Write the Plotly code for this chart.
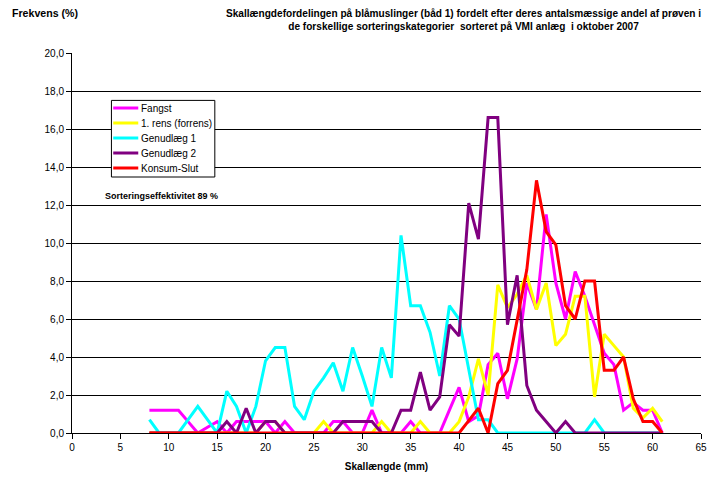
import plotly.graph_objects as go

# Shell length classes (mm)
lengths = list(range(8, 62))

# Frequency (%) per length class for each sorting category
fangst = [1.2, 1.2, 1.2, 1.2, 0.6, 0, 0.3, 0.6, 0, 0.6,
          0.6, 0.6, 0.6, 0, 0.6, 0, 0, 0, 0, 0.6,
          0.6, 0, 0, 1.2, 0, 0, 0, 0.6, 0, 0,
          0, 1.2, 2.4, 0.6, 0.9, 3.6, 4.2, 1.8, 3.9, 7.9,
          6.5, 11.5, 7.9, 6.0, 8.5, 7.2, 5.7, 4.2, 3.6, 1.2,
          1.6, 1.2, 1.2, 0]
rens = [0, 0, 0, 0, 0, 0, 0, 0, 0, 0,
        0, 0, 0.6, 0.6, 0, 0, 0, 0, 0.6, 0,
        0, 0, 0, 0, 0.6, 0, 0, 0, 0.6, 0,
        0, 0, 0.6, 1.9, 3.9, 2.0, 7.8, 6.6, 7.3, 8.3,
        6.5, 7.9, 4.6, 5.2, 7.2, 7.2, 1.9, 5.2, 4.6, 4.0,
        1.3, 0.8, 1.3, 0.6]
genudlaeg1 = [0.7, 0, 0, 0, 0.7, 1.4, 0.7, 0, 2.2, 1.4,
              0, 1.4, 3.8, 4.5, 4.5, 1.4, 0.7, 2.2, 2.9, 3.7,
              2.2, 4.5, 3.0, 1.4, 4.5, 2.9, 10.4, 6.7, 6.7, 5.3,
              3.0, 6.7, 6.0, 3.3, 0.7, 0.7, 0, 0, 0, 0,
              0, 0, 0, 0, 0, 0, 0.7, 0, 0, 0,
              0, 0, 0, 0]
genudlaeg2 = [0, 0, 0, 0, 0, 0, 0, 0, 0.6, 0,
              1.3, 0, 0.6, 0.6, 0, 0, 0, 0, 0, 0,
              0.6, 0.6, 0.6, 0.6, 0, 0, 1.2, 1.2, 3.2, 1.2,
              1.9, 5.7, 5.1, 12.1, 10.2, 16.6, 16.6, 5.7, 8.3, 2.5,
              1.2, 0.6, 0, 0.6, 0, 0, 0, 0, 0, 0,
              0, 0, 0, 0]
konsum = [0, 0, 0, 0, 0, 0, 0, 0, 0, 0,
          0, 0, 0, 0, 0, 0, 0, 0, 0, 0,
          0, 0, 0, 0, 0, 0, 0, 0, 0, 0,
          0, 0, 0, 0.65, 1.3, 0, 2.6, 3.3, 6.0, 8.6,
          13.3, 10.6, 9.9, 6.7, 6.0, 8.0, 8.0, 3.3, 3.3, 4.0,
          1.8, 0.6, 0.6, 0]

series_names = ["Fangst", "1. rens (forrens)", "Genudlæg 1", "Genudlæg 2", "Konsum-Slut"]
series_values = [fangst, rens, genudlaeg1, genudlaeg2, konsum]
series_colors = ["#FF00FF", "#FFFF00", "#00FFFF", "#800080", "#FF0000"]

x_ticks = list(range(0, 70, 5))
y_ticks = list(range(0, 22, 2))

FONT = "Arial, 'Liberation Sans', sans-serif"

# Plot area in page pixels
W, H = 713, 479
L, R, T, B = 72.3, 700.8, 53.3, 433.3


def px_x(px):
    return (px - L) / (R - L)


def px_y(py):
    return (B - py) / (B - T)


fig = go.Figure()
for name, vals, col in zip(series_names, series_values, series_colors):
    fig.add_trace(go.Scatter(x=lengths, y=vals, name=name, mode="lines",
                             line=dict(color=col, width=3), showlegend=False))

shapes = []
annotations = []

# Legend box
shapes.append(dict(type="rect", xref="paper", yref="paper",
                   x0=px_x(111.7), x1=px_x(215), y0=px_y(177.3), y1=px_y(100.7),
                   line=dict(color="#000000", width=1), fillcolor="#FFFFFF", layer="above"))
for i, (name, col) in enumerate(zip(series_names, series_colors)):
    yy = 108.3 + 15 * i
    shapes.append(dict(type="line", xref="paper", yref="paper",
                       x0=px_x(113.5), x1=px_x(138.5), y0=px_y(yy), y1=px_y(yy),
                       line=dict(color=col, width=3), layer="above"))
    annotations.append(dict(text=name, xref="paper", yref="paper",
                            x=px_x(139), y=px_y(yy), xanchor="left", yanchor="middle",
                            showarrow=False, font=dict(family=FONT, size=10, color="#000000")))

annotations += [
    dict(text="<b>Sorteringseffektivitet 89 %</b>", xref="paper", yref="paper",
         x=px_x(103), y=px_y(196.5), xanchor="left", yanchor="middle", showarrow=False,
         font=dict(family=FONT, size=9, color="#000000")),
    dict(text="<b>Skallængdefordelingen på blåmuslinger (båd 1) fordelt efter deres antalsmæssige andel af prøven i</b>"
              "<br><b>de forskellige sorteringskategorier  sorteret på VMI anlæg  i oktober 2007</b>",
         xref="paper", yref="paper", x=px_x(463), y=px_y(20), xanchor="center", yanchor="middle",
         showarrow=False, align="center",
         font=dict(family=FONT, size=10.1, color="#000000")),
    dict(text="<b>Frekvens (%)</b>", xref="paper", yref="paper",
         x=px_x(10), y=px_y(13), xanchor="left", yanchor="middle", showarrow=False,
         font=dict(family=FONT, size=10.6, color="#000000")),
]

fig.update_layout(
    width=W, height=H,
    margin=dict(l=L, r=W - R, t=T, b=H - B, pad=0),
    paper_bgcolor="#FFFFFF", plot_bgcolor="#FFFFFF",
    separators=",.",
    showlegend=False,
    shapes=shapes,
    annotations=annotations,
    font=dict(family=FONT, size=10, color="#000000"),
)
fig.update_xaxes(range=[0, 65], tickvals=x_ticks, ticktext=[str(v) for v in x_ticks],
                 automargin=False,
                 showgrid=False, zeroline=False, showline=True, linecolor="#000000", linewidth=1,
                 ticks="outside", ticklen=5, tickcolor="#000000",
                 tickfont=dict(family=FONT, size=10, color="#000000"),
                 title=dict(text="<b>Skallængde (mm)</b>", standoff=10,
                            font=dict(family=FONT, size=10, color="#000000")))
fig.update_yaxes(range=[0, 20], tickvals=y_ticks, tickformat=".1f",
                 automargin=False,
                 showgrid=True, gridcolor="#000000", gridwidth=1,
                 zeroline=False, showline=True, linecolor="#000000", linewidth=1,
                 ticks="outside", ticklen=5, tickcolor="#000000",
                 tickfont=dict(family=FONT, size=10, color="#000000"))

fig.write_html("out.html")
